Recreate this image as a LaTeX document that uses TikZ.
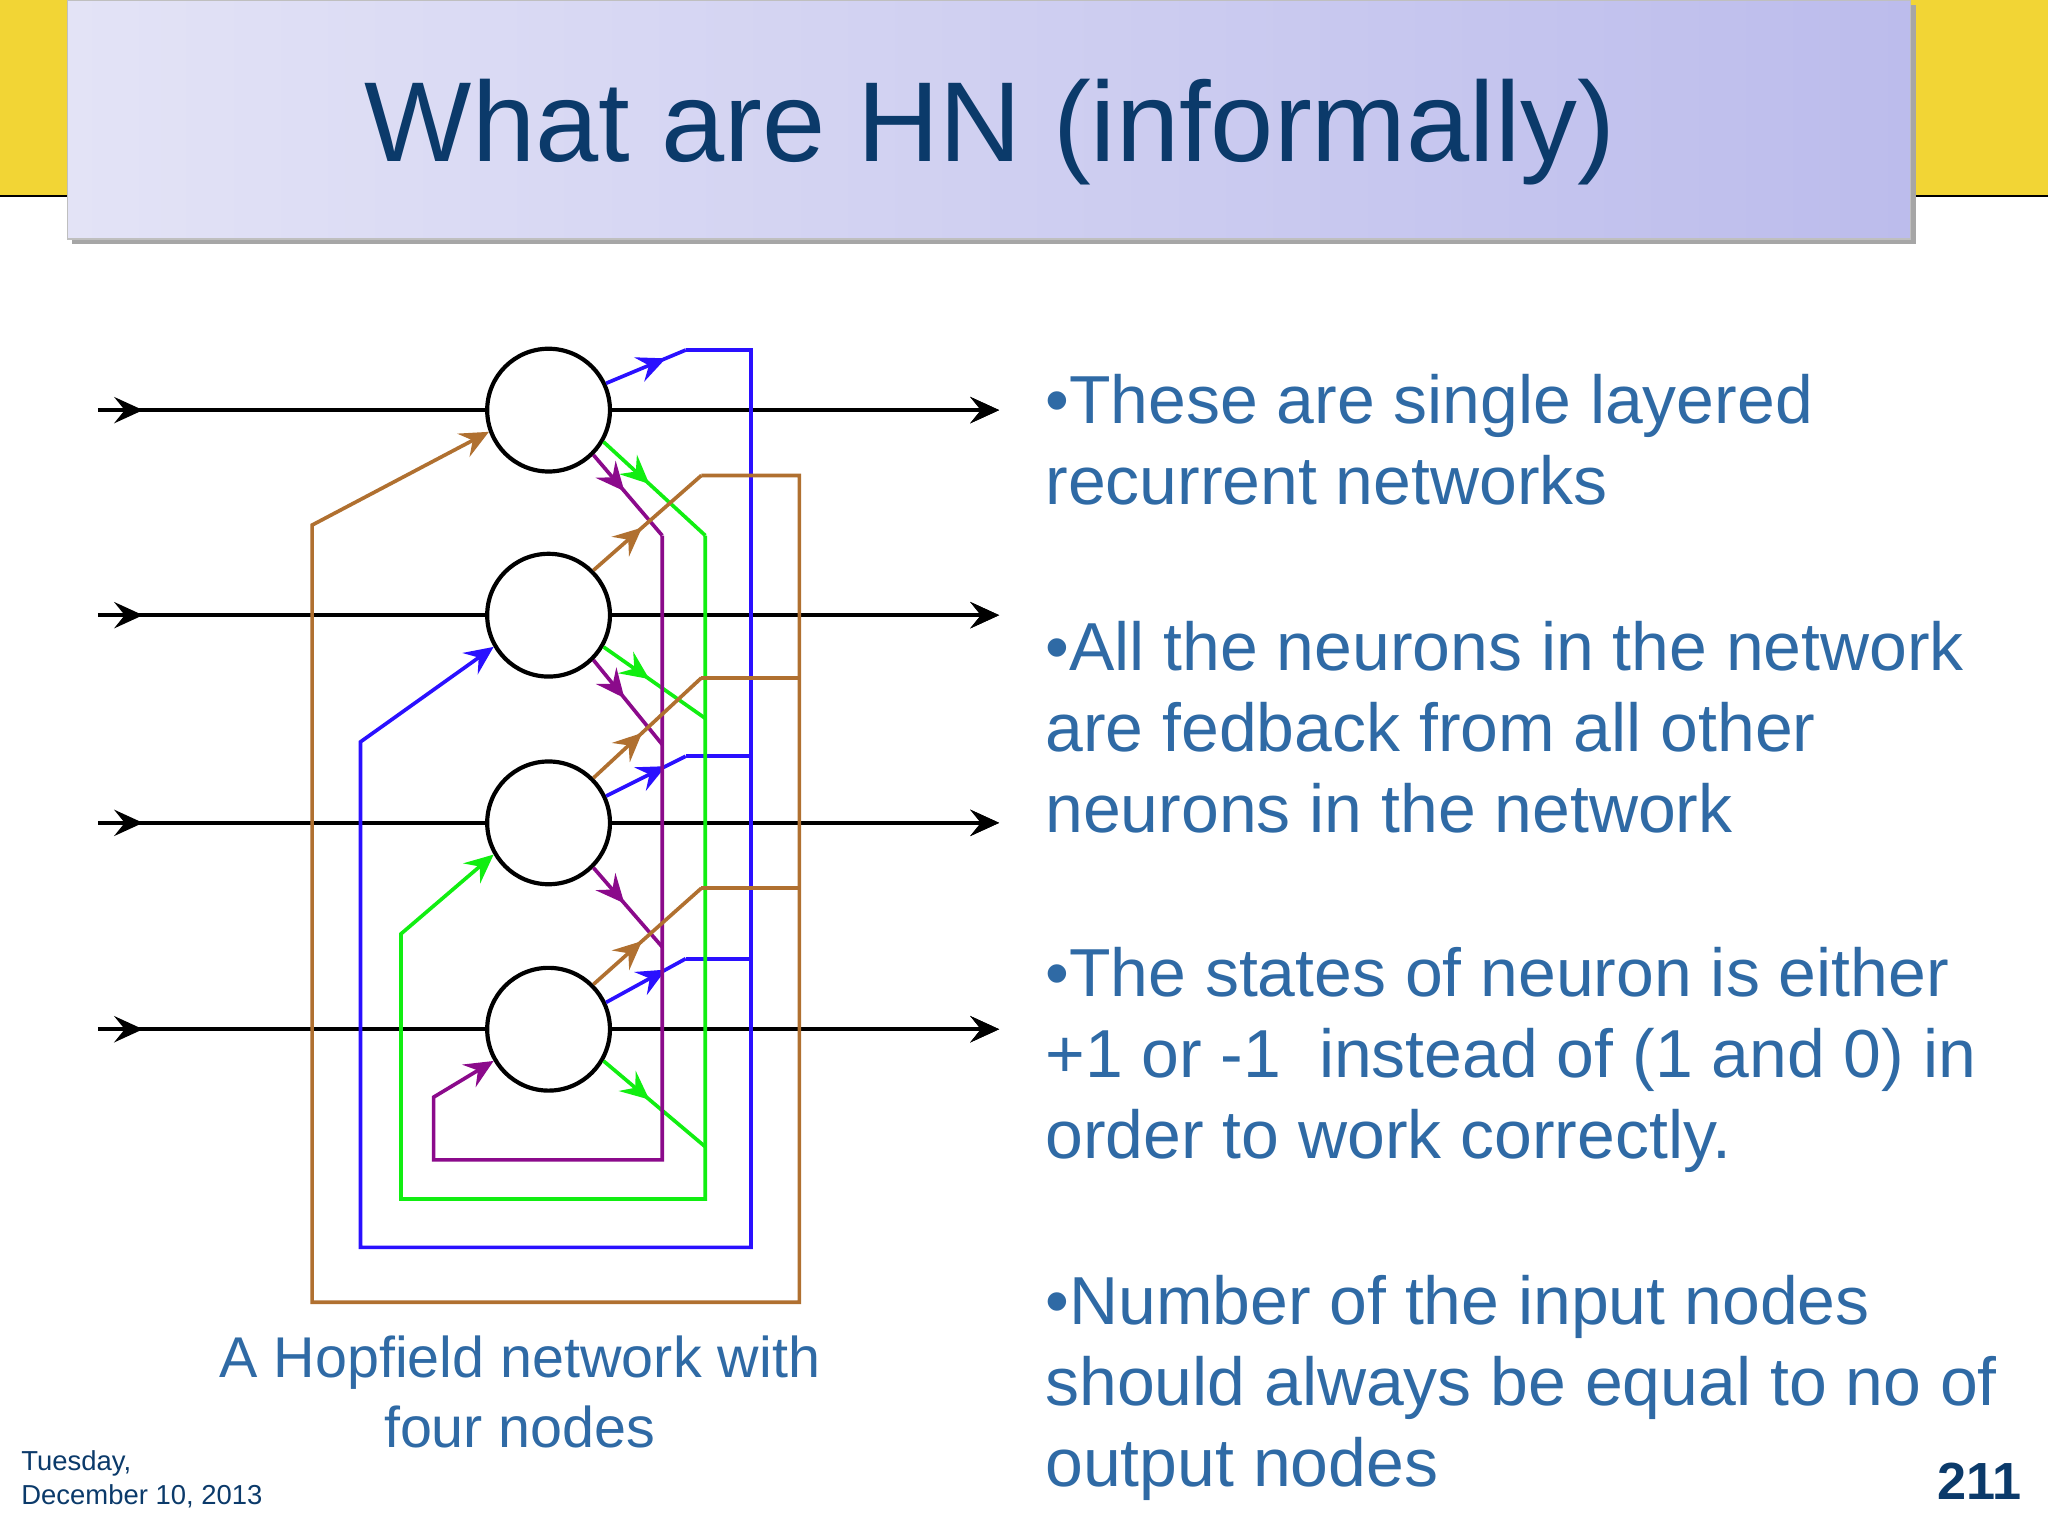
\documentclass[tikz,border=0pt]{standalone}
\usepackage{fontspec}
\setmainfont{Liberation Sans}
\usetikzlibrary{arrows.meta,decorations.markings,shadows}
\definecolor{ttl}{HTML}{0B3A6A}
\definecolor{txt}{HTML}{2F6AA5}
\definecolor{ylw}{HTML}{F2D535}
\definecolor{bl}{HTML}{2A10FF}
\definecolor{gr}{HTML}{11EE11}
\definecolor{pu}{HTML}{8B0A8B}
\definecolor{br}{HTML}{B07030}
\definecolor{hl}{HTML}{E3E3F6}
\definecolor{hr}{HTML}{BCBCEC}
\begin{document}
\begin{tikzpicture}[x=0.5pt,y=-0.5pt,
 neuron/.style={circle,draw,line width=1.6pt,minimum size=47pt,inner sep=0pt,fill=white},
 wire/.style={line width=1.4pt},
 tip/.tip={Stealth[length=11pt,width=10pt,inset=4pt]},
 hd/.style={-tip},
 mid/.style={postaction={decorate},decoration={markings,mark=at position #1 with {\arrow{tip}}}},
 mid/.default=0.75,
 body/.style={anchor=base west,text=txt,font=\fontsize{26pt}{31pt}\selectfont,inner sep=0pt,align=left}]
\useasboundingbox (0,0) rectangle (1568,1176);
\fill[white] (0,0) rectangle (1568,1176);
% header
\fill[ylw] (0,0) rectangle (1568,150);
\draw[line width=1pt] (0,150) -- (1568,150);
\fill[black!35] (55,4) rectangle (1467,187);
\shade[left color=hl, right color=hr, draw=black!25] (52,0) rectangle (1463,183);
\node[text=ttl,font=\fontsize{43.5pt}{46pt}\selectfont,anchor=base] (title) at (758,124) {What are HN (informally)};
% nodes
\foreach \i/\y in {1/314,2/471,3/630,4/788}{
  \coordinate (in\i) at (75,\y);
  \coordinate (out\i) at (765,\y);
}
\foreach \i in {1,...,4}{
  \draw[line width=1.6pt,mid=0.05] (in\i) -- (out\i) [hd];
}
\foreach \i/\y in {1/314,2/471,3/630,4/788}{
  \node[neuron] (n\i) at (420,\y) {};
}
\foreach \i in {1,...,4}{\draw[line width=1.6pt,hd] (n\i.east) -- (out\i);}
% blue
\draw[wire,bl,mid] (n1.25) -- (525,268);
\draw[wire,bl,hd] (525,268) -- (575,268) -- (575,955) -- (276,955) -- (276,568) -- (n2.210);
\draw[wire,bl,mid] (n3.25) -- (525,579);
\draw[wire,bl] (525,579) -- (575,579);
\draw[wire,bl,mid] (n4.25) -- (525,734);
\draw[wire,bl] (525,734) -- (575,734);
% green
\draw[wire,gr,mid=0.45] (n1.-30) -- (540,410);
\draw[wire,gr,hd] (540,410) -- (540,918) -- (307,918) -- (307,715) -- (n3.210);
\draw[wire,gr,mid=0.45] (n2.-30) -- (540,550);
\draw[wire,gr,mid=0.45] (n4.-30) -- (540,878);
% purple
\draw[wire,pu,mid=0.45] (n1.-45) -- (507,410);
\draw[wire,pu,hd] (507,410) -- (507,888) -- (332,888) -- (332,840) -- (n4.210);
\draw[wire,pu,mid=0.45] (n2.-45) -- (507,570);
\draw[wire,pu,mid=0.45] (n3.-45) -- (507,725);
% brown
\draw[wire,br,mid=0.45] (n2.45) -- (537,364);
\draw[wire,br,hd] (537,364) -- (612,364) -- (612,997) -- (239,997) -- (239,402) -- (n1.200);
\draw[wire,br,mid=0.45] (n3.45) -- (537,519);
\draw[wire,br] (537,519) -- (612,519);
\draw[wire,br,mid=0.45] (n4.45) -- (537,680);
\draw[wire,br] (537,680) -- (612,680);
% texts
\node[body] (b1) at (800,386) {•These are single layered\\recurrent networks};
\node[body] (b2) at (800,637) {•All the neurons in the network\\are fedback from all other\\neurons in the network};
\node[body] (b3) at (800,887) {•The states of neuron is either\\+1 or -1\ \ instead of (1 and 0) in\\order to work correctly.};
\node[body] (b4) at (800,1138) {•Number of the input nodes\\should always be equal to no of\\output nodes};
\node[text=txt,font=\fontsize{22pt}{26.5pt}\selectfont,align=center,anchor=base,inner sep=0pt] (cap) at (398,1108) {A Hopfield network with\\four nodes};
\node[text=ttl,font=\fontsize{10.5pt}{13pt}\selectfont,align=left,anchor=base west,inner sep=0pt] (date) at (16,1152) {Tuesday,\\December 10, 2013};
\node[text=ttl,font=\bfseries\fontsize{20pt}{20pt}\selectfont,anchor=base east,inner sep=0pt] (pg) at (1548,1148) {211};
\end{tikzpicture}
\end{document}
